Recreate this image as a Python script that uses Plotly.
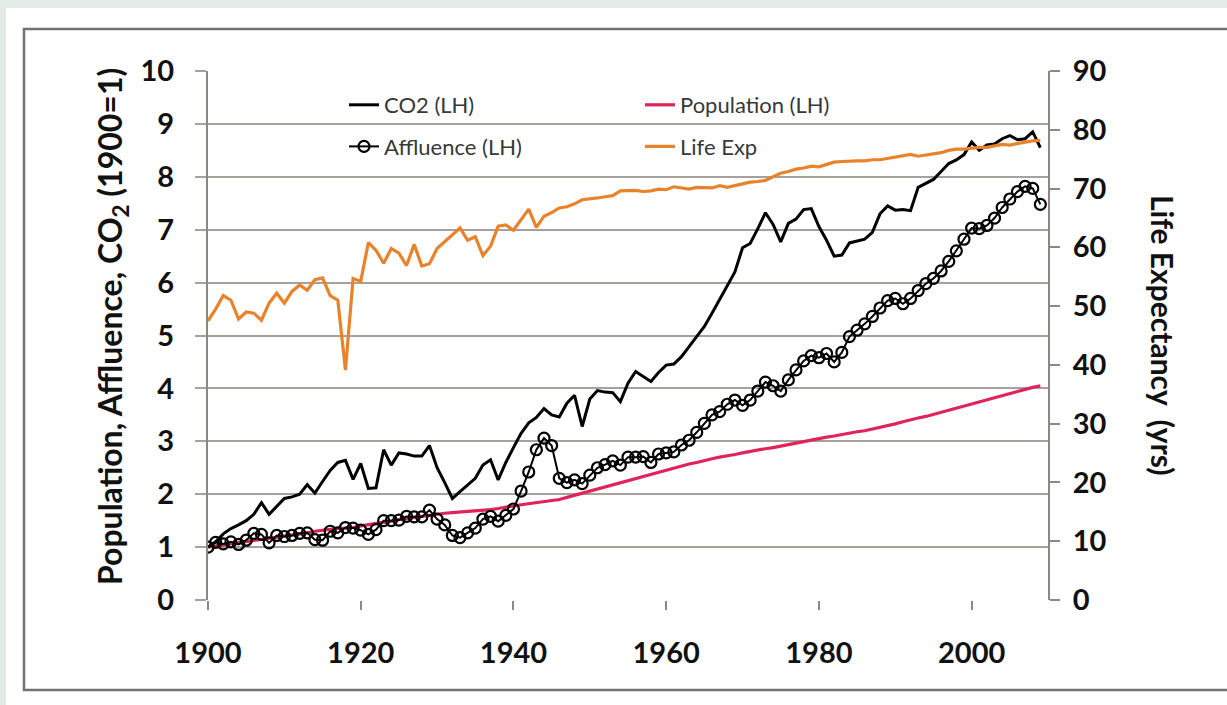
import plotly.graph_objects as go

years = list(range(1900, 2010))

co2 = [1.0, 1.1, 1.25, 1.35, 1.42, 1.5, 1.62, 1.84, 1.62, 1.78,
       1.92, 1.95, 2.0, 2.18, 2.02, 2.24, 2.45, 2.6, 2.64, 2.28,
       2.58, 2.11, 2.12, 2.84, 2.55, 2.78, 2.76, 2.72, 2.72, 2.92,
       2.5, 2.22, 1.92, 2.05, 2.18, 2.3, 2.55, 2.65, 2.27, 2.6,
       2.88, 3.15, 3.35, 3.45, 3.62, 3.5, 3.46, 3.72, 3.87, 3.28,
       3.8, 3.96, 3.93, 3.92, 3.75, 4.1, 4.32, 4.22, 4.13, 4.3,
       4.44, 4.46, 4.6, 4.79, 4.98, 5.17, 5.42, 5.68, 5.92, 6.2,
       6.66, 6.74, 7.02, 7.32, 7.1, 6.77, 7.12, 7.2, 7.38, 7.4,
       7.06, 6.8, 6.5, 6.52, 6.75, 6.78, 6.82, 6.95, 7.3, 7.45,
       7.37, 7.38, 7.36, 7.8, 7.88, 7.95, 8.1, 8.25, 8.32, 8.42,
       8.66, 8.5, 8.6, 8.62, 8.72, 8.78, 8.7, 8.72, 8.85, 8.55]

population = [1.0, 1.02, 1.04, 1.055, 1.075, 1.095, 1.115, 1.135, 1.16, 1.18,
              1.21, 1.23, 1.25, 1.27, 1.3, 1.32, 1.34, 1.355, 1.36, 1.37,
              1.4, 1.42, 1.44, 1.47, 1.49, 1.52, 1.54, 1.56, 1.58, 1.6,
              1.63, 1.64, 1.65, 1.66, 1.67, 1.68, 1.69, 1.71, 1.73, 1.76,
              1.78, 1.8, 1.82, 1.84, 1.86, 1.88, 1.9, 1.94, 1.98, 2.02,
              2.06, 2.1, 2.14, 2.18, 2.22, 2.26, 2.3, 2.34, 2.38, 2.42,
              2.46, 2.5, 2.54, 2.57, 2.6, 2.64, 2.67, 2.7, 2.72, 2.75,
              2.78, 2.81, 2.84, 2.86, 2.88, 2.91, 2.93, 2.96, 2.99, 3.02,
              3.05, 3.08, 3.1, 3.13, 3.15, 3.18, 3.2, 3.23, 3.26, 3.29,
              3.33, 3.37, 3.41, 3.44, 3.47, 3.51, 3.55, 3.59, 3.63, 3.67,
              3.71, 3.75, 3.79, 3.83, 3.86, 3.9, 3.94, 3.98, 4.02, 4.05]

affluence = [1.0, 1.09, 1.06, 1.1, 1.05, 1.13, 1.26, 1.24, 1.08, 1.22,
             1.2, 1.22, 1.26, 1.27, 1.14, 1.13, 1.3, 1.27, 1.37, 1.36,
             1.32, 1.24, 1.33, 1.5, 1.5, 1.51, 1.58, 1.57, 1.57, 1.7,
             1.53, 1.42, 1.22, 1.18, 1.27, 1.36, 1.53, 1.58, 1.49, 1.6,
             1.72, 2.06, 2.42, 2.84, 3.06, 2.92, 2.3, 2.22, 2.27, 2.2,
             2.36, 2.5, 2.56, 2.63, 2.55, 2.7, 2.7, 2.71, 2.6, 2.76,
             2.78, 2.8, 2.93, 3.02, 3.17, 3.34, 3.5, 3.56, 3.7, 3.78,
             3.68, 3.78, 3.95, 4.12, 4.05, 3.95, 4.16, 4.35, 4.52, 4.62,
             4.58, 4.66, 4.5, 4.68, 4.98, 5.1, 5.22, 5.36, 5.52, 5.66,
             5.7, 5.6, 5.7, 5.85, 5.98, 6.08, 6.22, 6.4, 6.6, 6.82,
             7.03, 7.02, 7.08, 7.22, 7.42, 7.58, 7.72, 7.82, 7.78, 7.48]

life_exp = [47.5, 49.5, 51.8, 51.0, 47.8, 49.0, 48.8, 47.6, 50.5, 52.2,
            50.5, 52.5, 53.6, 52.7, 54.5, 54.8, 51.8, 51.0, 39.1, 54.7,
            54.2, 60.8, 59.5, 57.3, 59.8, 59.0, 56.9, 60.5, 56.8, 57.2,
            59.8, 61.0, 62.2, 63.3, 61.2, 61.8, 58.6, 60.2, 63.6, 63.8,
            62.9, 64.6, 66.5, 63.4, 65.3, 65.9, 66.7, 66.9, 67.4, 68.1,
            68.2, 68.4, 68.6, 68.8, 69.6, 69.6, 69.7, 69.5, 69.6, 69.9,
            69.8, 70.3, 70.1, 69.9, 70.2, 70.2, 70.1, 70.5, 70.2, 70.5,
            70.8, 71.1, 71.2, 71.4, 72.0, 72.6, 72.9, 73.3, 73.5, 73.8,
            73.7, 74.1, 74.5, 74.6, 74.7, 74.7, 74.7, 74.9, 74.9, 75.1,
            75.4, 75.5, 75.8, 75.5, 75.7, 75.8, 76.1, 76.5, 76.7, 76.7,
            76.9, 77.0, 77.0, 77.2, 77.5, 77.4, 77.7, 77.9, 78.1, 78.2]

x_ticks = [1900, 1920, 1940, 1960, 1980, 2000]
left_ticks = list(range(0, 11))
right_ticks = list(range(0, 100, 10))

FONT = "Lato"
GRID = "#a7a09b"
AXIS = "#8e8884"
TICKFONT = dict(family=FONT, size=29, color="#111111", weight="bold")

fig = go.Figure()

fig.add_trace(go.Scatter(x=years, y=population, name="Population (LH)", mode="lines",
                         line=dict(color="#e0245a", width=3.2),
                         legend="legend2", legendgroup="pop"))
fig.add_trace(go.Scatter(x=years, y=co2, name="CO2 (LH)", mode="lines",
                         line=dict(color="#000000", width=3),
                         legend="legend", legendgroup="co2"))
fig.add_trace(go.Scatter(x=years, y=affluence, name="Affluence (LH)", mode="lines+markers",
                         line=dict(color="#000000", width=2),
                         marker=dict(symbol="circle-open", size=11, color="#000000",
                                     line=dict(width=2.2, color="#000000")),
                         legend="legend", legendgroup="aff"))
fig.add_trace(go.Scatter(x=years, y=life_exp, name="Life Exp", mode="lines",
                         line=dict(color="#e8832c", width=3.2), yaxis="y2",
                         legend="legend2", legendgroup="life"))

L, R, T, B = 208, 179, 71, 105
PW, PH = 1227 - L - R, 705 - T - B


def px(xp):
    return (xp - L) / PW


def py(yp):
    return (705 - B - yp) / PH


legend_common = dict(bgcolor="rgba(0,0,0,0)", font=dict(family=FONT, size=22, color="#383838"),
                     tracegroupgap=10, xanchor="left", yanchor="top", itemwidth=30)

fig.update_layout(
    width=1227, height=705,
    margin=dict(l=L, r=R, t=T, b=B),
    paper_bgcolor="#e2ebe6",
    plot_bgcolor="rgba(0,0,0,0)",
    font=dict(family=FONT, color="#111111"),
    xaxis=dict(range=[1900, 2010], tickvals=x_ticks, ticks="outside", ticklen=9,
               tickcolor=AXIS, tickwidth=1.5, showgrid=False, zeroline=False,
               showline=False, ticklabelstandoff=18, tickfont=TICKFONT),
    yaxis=dict(range=[0, 10], tickvals=left_ticks, ticks="outside", ticklen=11,
               tickcolor=GRID, tickwidth=2, showgrid=True, gridcolor=GRID, gridwidth=2,
               zeroline=False, showline=True, linecolor=AXIS, linewidth=2,
               ticklabelstandoff=15, tickfont=TICKFONT),
    yaxis2=dict(range=[0, 90], tickvals=right_ticks, overlaying="y", side="right",
                ticks="outside", ticklen=10, tickcolor=AXIS, tickwidth=1.5,
                showgrid=False, zeroline=False, showline=True, linecolor=AXIS, linewidth=2,
                ticklabelstandoff=7, tickfont=TICKFONT),
    legend=dict(x=px(344), y=py(84), **legend_common),
    legend2=dict(x=px(640), y=py(84), **legend_common),
    showlegend=True,
)

fig.add_shape(type="rect", xref="paper", yref="paper", layer="below",
              x0=px(6), x1=px(1300), y0=py(760), y1=py(8),
              fillcolor="#ffffff", line=dict(width=0))
fig.add_shape(type="rect", xref="paper", yref="paper", layer="below",
              x0=px(24), x1=px(1300), y0=py(690), y1=py(29),
              fillcolor="#ffffff", line=dict(width=2.5, color="#757170"))

fig.add_annotation(text="Population, Affluence, CO<sub>2</sub> (1900=1)",
                   xref="paper", yref="paper", x=px(112), y=py(327),
                   xanchor="center", yanchor="middle",
                   textangle=-90, showarrow=False,
                   font=dict(family=FONT, size=32, color="#111111", weight="bold"))
fig.add_annotation(text="Life Expectancy  (yrs)",
                   xref="paper", yref="paper", x=px(1163), y=py(335),
                   xanchor="center", yanchor="middle",
                   textangle=90, showarrow=False,
                   font=dict(family=FONT, size=30, color="#111111", weight="bold"))

fig.write_html("out.html", config={"displayModeBar": False},
               post_script="document.body.style.margin='0';document.body.style.padding='0';")
